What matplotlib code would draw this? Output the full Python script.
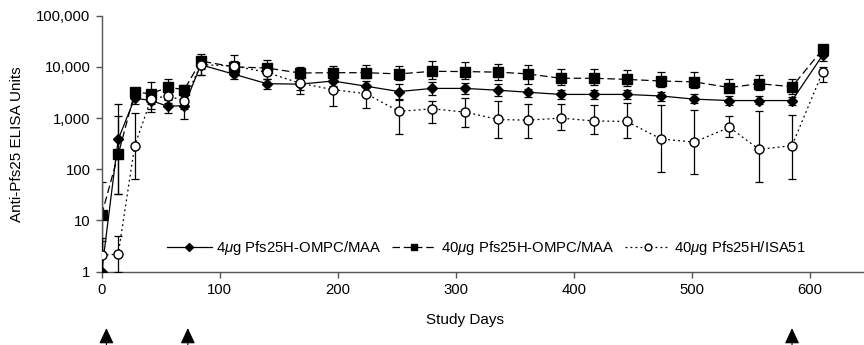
import numpy as np
import matplotlib
matplotlib.use("Agg")
import matplotlib.pyplot as plt
from matplotlib.ticker import FuncFormatter, NullLocator
from matplotlib.lines import Line2D

plt.rcParams['font.family'] = ['Liberation Sans', 'DejaVu Sans']
plt.rcParams['mathtext.fontset'] = 'custom'
plt.rcParams['mathtext.it'] = 'Liberation Sans:italic'
plt.rcParams['mathtext.rm'] = 'Liberation Sans'

# study days of each bleed
days = [0, 14, 28, 42, 56, 70, 84, 112, 140, 168, 196, 224, 252, 280, 308,
        336, 361, 389, 417, 445, 474, 502, 532, 557, 585, 611]

# 4ug Pfs25H-OMPC/MAA (geo mean, lower, upper)
d4 = [1, 384, 2450, 2200, 1700, 1750, 11000, 7200, 4700, 4600, 5300, 4200, 3300,
      3800, 3800, 3500, 3200, 2900, 2900, 2900, 2700, 2350, 2200, 2200, 2200, 17000]
d4_lo = [1, 33, 1900, 1500, 1250, 950, 6800, 5800, 3700, 3500, 4300, 3300, 2300,
         2800, 2900, 2700, 2600, 2400, 2400, 2400, 2200, 2000, 1800, 1850, 1800, 13000]
d4_hi = [4, 1850, 3000, 3300, 2300, 2500, 14000, 9000, 5800, 6000, 6500, 5400, 4600,
         5000, 4800, 4600, 3700, 3500, 3500, 3500, 3300, 2900, 2700, 2650, 2600, 20000]

# 40ug Pfs25H-OMPC/MAA
d40 = [13, 195, 3200, 3000, 4000, 3600, 13000, 10000, 9500, 7600, 7700, 7700, 7300,
       8200, 8100, 7900, 7300, 6000, 6000, 5700, 5300, 5100, 3950, 4700, 4100, 22000]
d40_lo = [1, 33, 2600, 1900, 3000, 2700, 9000, 8000, 7000, 6000, 6200, 6000, 5600,
          5800, 5800, 5600, 4700, 4500, 4500, 4200, 4000, 3800, 3200, 3500, 3000, 17000]
d40_hi = [57, 1100, 3800, 5100, 5700, 4500, 17700, 13000, 13500, 10000, 10500, 11000,
          10500, 13000, 12500, 11500, 11000, 9000, 9000, 8800, 8000, 8000, 5800, 7000,
          5900, 25000]

# 40ug Pfs25H/ISA51
isa = [2.1, 2.2, 290, 2400, 2700, 2200, 11000, 10500, 7800, 4800, 3600, 3000, 1350,
       1520, 1310, 940, 910, 1000, 880, 860, 390, 340, 660, 245, 290, 8000]
isa_lo = [1, 1, 65, 1300, 2000, 1500, 7000, 7500, 5800, 2900, 1700, 1600, 500, 790,
          680, 410, 400, 590, 480, 410, 90, 80, 420, 57, 66, 5000]
isa_hi = [4.5, 5, 1250, 3000, 3400, 3000, 15000, 17000, 10000, 6500, 5500, 4500, 2400,
          2200, 2500, 2150, 1900, 1900, 1800, 2000, 1800, 1450, 1100, 1380, 1150, 10000]

labels = [r'4$\mu$g Pfs25H-OMPC/MAA', r'40$\mu$g Pfs25H-OMPC/MAA', r'40$\mu$g Pfs25H/ISA51']

# vaccination days (arrows under the axis)
boost_days = [4, 73, 585]

fig = plt.figure(figsize=(8.64, 3.45), dpi=100)
ax = fig.add_axes([0.1177, 0.2125, 0.8823, 0.742])

def yerr(v, lo, hi):
    v, lo, hi = np.array(v, float), np.array(lo, float), np.array(hi, float)
    return [v - lo, hi - v]

styles = [dict(marker='D', ms=5.5, mfc='black', ls='-'),
          dict(marker='s', ms=6.5, mfc='black', ls=(0, (6, 3))),
          dict(marker='o', ms=6.5, mfc='white', ls=(0, (1.5, 2.5)))]
series = [(d4, d4_lo, d4_hi), (d40, d40_lo, d40_hi), (isa, isa_lo, isa_hi)]
zorders = [3, 2, 4]

for (v, lo, hi), st, z in zip(series, styles, zorders):
    ax.errorbar(days, v, yerr=yerr(v, lo, hi), color='black', mec='black',
                ecolor='black', elinewidth=0.9, capsize=3, capthick=0.9,
                lw=0.9, zorder=z, **st)

ax.set_yscale('log')
ax.set_ylim(1, 100000)
ax.set_xlim(0, 646)
ax.set_xticks(range(0, 700, 100))
ax.set_yticks([1, 10, 100, 1000, 10000, 100000])
ax.yaxis.set_major_formatter(FuncFormatter(lambda v, p: f'{int(round(v)):,}'))
ax.yaxis.set_minor_locator(NullLocator())

for s in ['top', 'right']:
    ax.spines[s].set_visible(False)
for s in ['left', 'bottom']:
    ax.spines[s].set_color('#555555')
    ax.spines[s].set_linewidth(1.0)
ax.tick_params(colors='#555555', labelcolor='black', labelsize=10.7, length=4,
               width=1, pad=4)

ax.set_ylabel('Anti-Pfs25 ELISA Units', fontsize=11)
ax.yaxis.set_label_coords(-0.102, 0.5)
ax.set_xlabel('Study Days', fontsize=11)
ax.xaxis.set_label_coords(0.4766, -0.16)

handles = [Line2D([], [], color='black', lw=0.9, mec='black',
                  **dict(st, ms=st['ms'] * 0.75)) for st in styles]
ax.legend(handles, labels, loc='center', bbox_to_anchor=(0.505, 0.093), ncol=3,
          frameon=False, fontsize=10.7, handlelength=3.0, handletextpad=0.3,
          columnspacing=0.7)

for d in boost_days:
    ax.annotate('', xy=(d, 0.049), xytext=(d, 0.0),
                xycoords=('data', 'figure fraction'),
                textcoords=('data', 'figure fraction'),
                arrowprops=dict(arrowstyle='-|>,head_width=0.28,head_length=0.6',
                                mutation_scale=16, color='black', lw=0.8,
                                shrinkA=0, shrinkB=0),
                annotation_clip=False)

fig.savefig('out.png', dpi=100)
